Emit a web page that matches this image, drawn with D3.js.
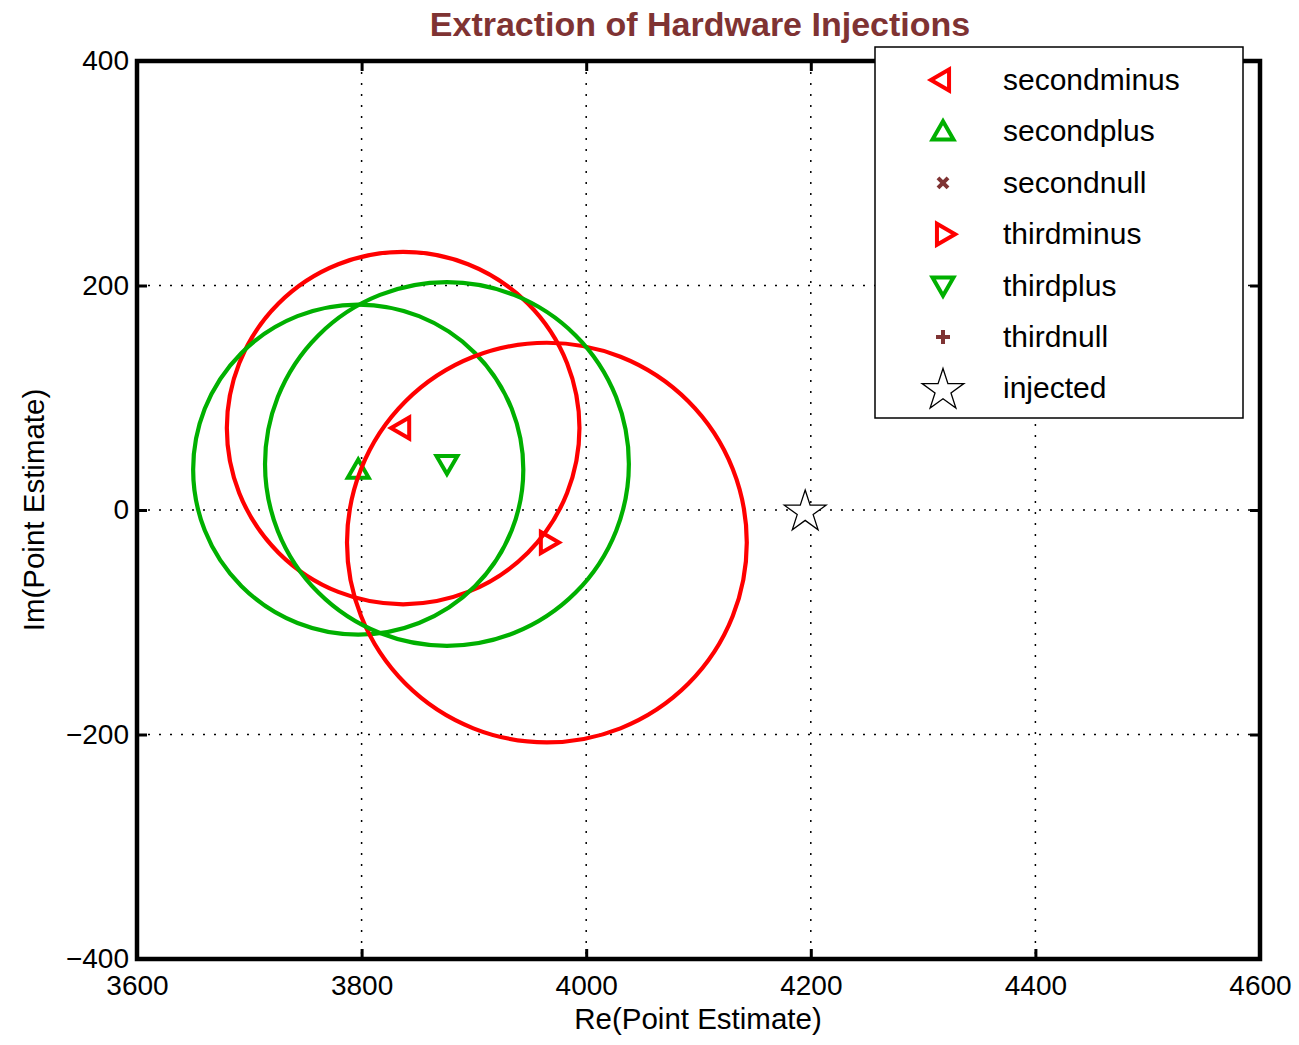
<!DOCTYPE html>
<html>
<head>
<meta charset="utf-8">
<script src="https://cdn.jsdelivr.net/npm/d3@7"></script>
<style>
  body { margin: 0; background: #fff; }
  text { font-family: "Liberation Sans", Arial, Helvetica, sans-serif; }
</style>
</head>
<body>
<div id="container"></div>
<script>
// series, in drawing order
const names   = ["secondminus", "secondplus", "thirdminus", "thirdplus"];
const centreX = [3837, 3797, 3965, 3876];
const centreY = [73, 36, -29, 41];
const radius  = [157, 147, 178, 162];
const injected = {re: 4195, im: 0};

const legendNames = ["secondminus", "secondplus", "secondnull", "thirdminus", "thirdplus", "thirdnull", "injected"];
const xTicks = [3600, 3800, 4000, 4200, 4400, 4600];
const yTicks = [-400, -200, 0, 200, 400];

const width = 1299;
const height = 1045;
const marginTop = 61;
const marginRight = 39;
const marginBottom = 86;
const marginLeft = 137;

const red = "#ff0000", green = "#00b000", brown = "#7f3333";
const style = {
  secondminus: {color: red, shape: "tri", rot: -90},
  secondplus:  {color: green, shape: "tri", rot: 0},
  secondnull:  {color: brown, shape: "x"},
  thirdminus:  {color: red, shape: "tri", rot: 90},
  thirdplus:   {color: green, shape: "tri", rot: 180},
  thirdnull:   {color: brown, shape: "plus"},
  injected:    {color: "#000", shape: "star"}
};

const x = d3.scaleLinear([3600, 4600], [marginLeft, width - marginRight]);
const y = d3.scaleLinear([-400, 400], [height - marginBottom, marginTop]);

const svg = d3.create("svg")
  .attr("width", width)
  .attr("height", height);

// grid
svg.append("g")
  .selectAll("line")
  .data(xTicks.slice(1, -1))
  .join("line")
    .attr("x1", d => x(d)).attr("x2", d => x(d))
    .attr("y1", y(400)).attr("y2", y(-400))
    .attr("stroke", "#000").attr("stroke-width", 1.5)
    .attr("stroke-dasharray", "2,9");
svg.append("g")
  .selectAll("line")
  .data(yTicks.slice(1, -1))
  .join("line")
    .attr("y1", d => y(d)).attr("y2", d => y(d))
    .attr("x1", x(3600)).attr("x2", x(4600))
    .attr("stroke", "#000").attr("stroke-width", 1.5)
    .attr("stroke-dasharray", "2,9");

// marker drawing
function marker(g, name, cx, cy) {
  const s = style[name];
  if (s.shape === "tri") {
    const path = d3.symbol(d3.symbolTriangle, 190)();
    g.append("path")
      .attr("d", path)
      .attr("transform", `translate(${cx},${cy + (s.rot === 0 ? 2 : s.rot === 180 ? -2 : 0)}) rotate(${s.rot})`)
      .attr("fill", "none").attr("stroke", s.color).attr("stroke-width", 4)
      .attr("stroke-linejoin", "miter");
  } else if (s.shape === "star") {
    g.append("path")
      .attr("d", d3.symbol(d3.symbolStar, 540)())
      .attr("transform", `translate(${cx},${cy + 2})`)
      .attr("fill", "#fff").attr("stroke", "#000").attr("stroke-width", 1.3);
  } else if (s.shape === "x") {
    g.append("path")
      .attr("d", "M-5,-5L5,5M-5,5L5,-5")
      .attr("transform", `translate(${cx},${cy})`)
      .attr("stroke", s.color).attr("stroke-width", 4);
  } else {
    g.append("path")
      .attr("d", "M-7,0L7,0M0,-7L0,7")
      .attr("transform", `translate(${cx},${cy})`)
      .attr("stroke", s.color).attr("stroke-width", 4);
  }
}

const plot = svg.append("g");
names.forEach((n, i) => marker(plot, n, x(centreX[i]), y(centreY[i])));
marker(plot, "injected", x(injected.re), y(injected.im));

names.forEach((n, i) => {
  plot.append("ellipse")
    .attr("cx", x(centreX[i]))
    .attr("cy", y(centreY[i]))
    .attr("rx", x(centreX[i] + radius[i]) - x(centreX[i]))
    .attr("ry", y(centreY[i]) - y(centreY[i] + radius[i]))
    .attr("fill", "none")
    .attr("stroke", style[n].color)
    .attr("stroke-width", 4.2);
});

// axes (ticks inside, on all four sides)
const tk = 10;
svg.append("g")
  .attr("transform", `translate(0,${height - marginBottom})`)
  .call(d3.axisBottom(x).tickValues(xTicks).tickSize(-tk).tickPadding(16).tickFormat(d3.format("d")))
  .call(g => g.select(".domain").remove());
svg.append("g")
  .attr("transform", `translate(0,${marginTop})`)
  .call(d3.axisTop(x).tickValues(xTicks).tickSize(-tk).tickFormat(""))
  .call(g => g.select(".domain").remove());
svg.append("g")
  .attr("transform", `translate(${marginLeft},0)`)
  .call(d3.axisLeft(y).tickValues(yTicks).tickSize(-tk).tickPadding(8).tickFormat(d => d < 0 ? "\u2212" + Math.abs(d) : d))
  .call(g => g.select(".domain").remove());
svg.append("g")
  .attr("transform", `translate(${width - marginRight},0)`)
  .call(d3.axisRight(y).tickValues(yTicks).tickSize(-tk).tickFormat(""))
  .call(g => g.select(".domain").remove());

svg.selectAll(".tick line").attr("stroke", "#000").attr("stroke-width", 3);
svg.selectAll(".tick text")
  .attr("fill", "#000")
  .attr("font-size", 28)
  .attr("font-family", "Liberation Sans, Arial, sans-serif");

svg.append("rect")
  .attr("x", marginLeft).attr("y", marginTop)
  .attr("width", width - marginLeft - marginRight)
  .attr("height", height - marginTop - marginBottom)
  .attr("fill", "none").attr("stroke", "#000").attr("stroke-width", 4.5);

// labels
svg.append("text")
  .attr("x", 700).attr("y", 36)
  .attr("text-anchor", "middle")
  .attr("font-size", 34).attr("font-weight", "bold")
  .attr("fill", brown)
  .text("Extraction of Hardware Injections");
svg.append("text")
  .attr("x", 698).attr("y", 1029)
  .attr("text-anchor", "middle")
  .attr("font-size", 29.5)
  .text("Re(Point Estimate)");
svg.append("text")
  .attr("transform", "translate(44,510) rotate(-90)")
  .attr("text-anchor", "middle")
  .attr("font-size", 29.5)
  .text("Im(Point Estimate)");

// legend
const lg = svg.append("g");
lg.append("rect")
  .attr("x", 875).attr("y", 47)
  .attr("width", 368).attr("height", 371)
  .attr("fill", "#fff").attr("stroke", "#000").attr("stroke-width", 1.5);
legendNames.forEach((n, i) => {
  const yy = 80 + i * 51.4;
  marker(lg, n, 943, yy);
  lg.append("text")
    .attr("x", 1003).attr("y", yy + 10)
    .attr("font-size", 30)
    .text(n);
});

document.getElementById("container").append(svg.node());
</script>
</body>
</html>
